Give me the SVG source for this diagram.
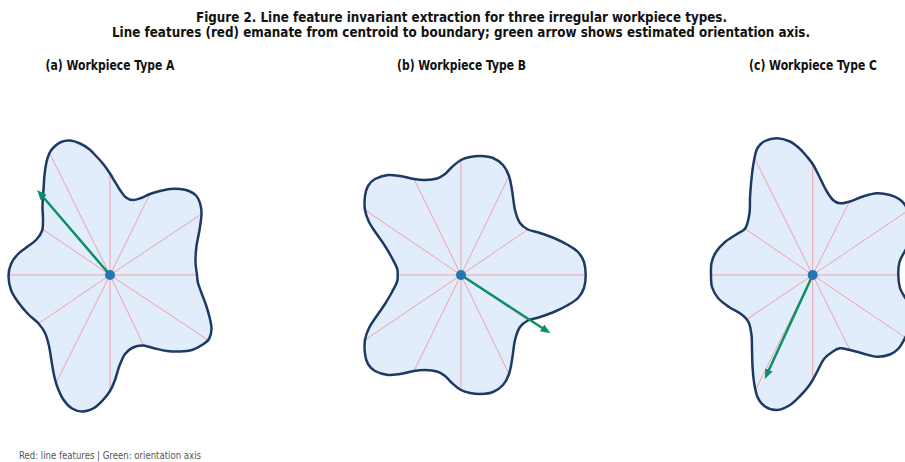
<svg xmlns="http://www.w3.org/2000/svg" xmlns:xlink="http://www.w3.org/1999/xlink" width="905" height="462" viewBox="0 0 905 462">
<style>
.title{font-family:"DejaVu Sans Condensed","DejaVu Sans","Liberation Sans",sans-serif;font-stretch:condensed;font-weight:bold;font-size:14px;fill:#111}
.sub{font-family:"DejaVu Sans Condensed","DejaVu Sans","Liberation Sans",sans-serif;font-stretch:condensed;font-weight:bold;font-size:13.5px;fill:#111}
.foot{font-family:"DejaVu Sans Condensed","DejaVu Sans","Liberation Sans",sans-serif;font-stretch:condensed;font-size:10px;fill:#555}
.fill{fill:#e2edfb;stroke:none}
.outline{fill:none;stroke:#1e3a64;stroke-width:2.5;stroke-linejoin:round}
.rays line{stroke:#f0a0aa;stroke-width:1}
.axis{stroke:#0a9064;stroke-width:2.5;fill:none}
.dot{fill:#1f77b4}
</style>
<defs>
<marker id="ah" markerUnits="userSpaceOnUse" markerWidth="11" markerHeight="9" refX="3.5" refY="4" orient="auto">
<path d="M0,0 L10,4 L0,8 z" fill="#0a9064"/>
</marker>
<path id="shapeA" d="M197,275 C196.58,271.5 195.58,266.83 195.5,262 S195.83,251.33 196.5,246 S198.67,235.33 199.5,230 S201.42,218.5 201.5,214 S200.92,206.08 200,203 S197.83,197.5 196,195.5 S191.67,192.08 189,191 S183.17,189.33 180,189 S173.33,188.67 170,189 S163.33,190.17 160,191 S153.17,192.83 150,194 S143.83,197 141,198 S135.5,200.08 133,200 S128.17,199.17 126,197.5 S121.92,192.75 120,190 S116.17,183.75 114.5,181 S111.75,176.17 110,173.5 S106.17,167.75 104,165 S99.5,159.67 97,157 S91.83,151.25 89,149 S83.17,144.92 80,143.5 S73.17,140.75 70,140.5 S63.67,140.92 61,142 S55.92,145.17 54,147 S50.75,150.5 49.5,153 S47.33,158.33 46.5,162 S45,170.33 44.5,175 S43.83,184.83 43.5,190 S42.58,201 42.5,206 S43.08,215.83 43,220 S43.17,227.67 42,231 S38.5,237.33 36,240 S30,244.67 27,247 S20.67,251.17 18,254 S12.58,260.33 11,264 S8.5,271.67 8.5,276 S9.42,285.67 11,290 S15.17,298 18,302 S24.58,310.42 28,314 S35.67,320.33 38.5,323.5 S43.25,329.25 45,333 S47.920,341.33 49,346 S50.67,356.17 51.5,361 S53.08,370.83 54,375 S55.5,382 57,386 S60.5,395.25 63,399 S68.67,406.42 72,408.5 S79.33,411.58 83,411.5 S90.67,409.92 94,408 S100.33,402.83 103,400 S108,394.33 110,391 S113.5,384 115,380 S117.33,371.33 119,367 S122.67,357.25 125,354 S130,348.92 133,347.5 S139.33,345.33 143,345.5 S151,347.58 155,348.5 S162.83,350.5 167,351 S175.83,351.67 180,351.5 S188.33,351.08 192,350 S199.17,346.83 202,345 S207.42,341.67 209,339 S211.42,332.67 211.5,329 S210.42,321 209.5,317 S207.33,309 206,305 S202.83,296.67 201.5,293 S198.75,286 198,283 S197.42,278.5 197,275 Z"/>
<path id="shapeB" d="M585.7,275 C585.7,270.67 585.28,265.83 584,262 S580.67,254.83 578,252 S571.83,247.25 568,245 S559.67,240.5 555,238.5 S544.5,234.5 540,233 S531.33,231.17 528,229.5 S522.17,226.25 520,223 S516.33,215.5 515,210 S513,195.67 512,190 S510.5,180.17 509,176 S505.67,168 503,165 S496.67,159.5 493,158 S484.83,156.17 481,156 S473.33,156.33 470,157 S464,158.33 461,160 S454.67,164.67 452,167 S447.5,172.08 445,174 S440.33,177.5 437,178.5 S428.83,179.92 425,180 S418.17,179.67 414,179 S404.33,176.67 400,176 S392.17,174.5 388,175 S378.33,177.17 375,179 S369.67,183.17 368,186 S365.5,192 365,196 S364.33,205.67 365,210 S367.17,218.17 369,222 S373.33,229 376,233 S382.33,241.83 385,246 S390,254.33 392,258 S396.05,265.17 397,268 S397.7,272.67 397.7,275 S397.95,279.17 397,282 S394,288.33 392,292 S387.67,299.83 385,304 S378.67,313 376,317 S370.83,324.17 369,328 S365.67,335.67 365,340 S364.5,350 365,354 S366.33,361.17 368,364 S371.67,369.17 375,371 S383.83,374.5 388,375 S395.67,374.67 400,374 S409.83,371.67 414,371 S421.17,369.92 425,370 S433.67,370.5 437,371.5 S442.5,374.08 445,376 S449.33,380.67 452,383 S458,388.33 461,390 S466.67,392.33 470,393 S477.17,394.17 481,394 S489.33,393.5 493,392 S500.33,388 503,385 S507.5,378.17 509,374 S511,365.67 512,360 S513.67,345.5 515,340 S517.83,330.25 520,327 S524.67,322.17 528,320.5 S535.5,318.5 540,317 S550.33,313.5 555,311.5 S564.17,307.25 568,305 S575.33,300.83 578,298 S582.72,291.83 584,288 S585.7,279.33 585.7,275 Z"/>
<path id="shapeC" d="M898.3,275 C898.22,270.67 898.38,266 899.5,262 S903.08,254.67 905,251 S909.83,244.83 911,240 S913,227.83 912,222 S907.17,208.83 905,205 S901.5,200.67 899,199 S893.67,195.95 890,195 S881.5,193.05 877,193.3 S867.5,195.13 863,196.5 S853.83,200.37 850,201.5 S842.83,203.55 840,203.3 S835.33,202.22 833,200 S828.33,194 826,190 S821.22,180.33 819,176 S814.87,167.42 812.7,164 S808.28,158.17 806,155.5 S801.67,150.33 799,148 S793.67,143.12 790,141.5 S781.17,138.38 777,138.3 S768.25,139.38 765,141 S759.25,145.17 757.5,148 S755.33,154.33 754.5,158 S753.08,165.67 752.5,170 S751.42,179.33 751,184 S750.25,193.17 750,198 S750.25,208 749.5,213 S747.58,224.5 745.5,228 S740.42,231.67 737,234 S728.5,239 725,242 S718.25,248.5 716,252 S712.33,259.17 711.5,263 S710.92,271 711,275 S710.83,283.17 712,287 S715.17,294.67 718,298 S725.17,304.33 729,307 S737.75,311.5 741,314 S746.75,318.5 748.5,322 S750.92,330.33 751.5,335 S751.83,344.83 752,350 S752.17,360.67 752.5,366 S753.17,376.83 754,382 S755.67,392.92 757.5,397 S761.75,404.33 765,406.5 S772.83,410.25 777,410 S786,407.5 790,405 S798,398 801,395 S806.05,389.5 808,387 S811.03,382.83 812.7,380 S816.12,373.5 818,370 S821.5,362.08 824,359 S830.33,353.28 833,351.5 S837.17,348.55 840,348.3 S846.17,349.13 850,350 S858.5,352.38 863,353.5 S872.5,356.53 877,356.7 S886.33,355.95 890,354.5 S896.5,350.75 899,348 S903,341.67 905,338 S910,331 911,326 S912,312.75 911,308 S906.83,300.83 905,297.5 S901.12,291.75 900,288 S898.38,279.33 898.3,275 Z"/>
</defs>
<rect width="905" height="462" fill="#ffffff"/>
<g id="title">
<text class="title" x="461.5" y="21.5" text-anchor="middle" textLength="531" lengthAdjust="spacingAndGlyphs">Figure 2. Line feature invariant extraction for three irregular workpiece types.</text>
<text class="title" x="461" y="37" text-anchor="middle" textLength="698" lengthAdjust="spacingAndGlyphs">Line features (red) emanate from centroid to boundary; green arrow shows estimated orientation axis.</text>
</g>
<g id="workpiece-a">
<text class="sub" x="110" y="70" text-anchor="middle" textLength="129" lengthAdjust="spacingAndGlyphs">(a) Workpiece Type A</text>
<use xlink:href="#shapeA" class="fill"/>
<g class="rays">
<line x1="110" y1="275" x2="197" y2="275"/>
<line x1="110" y1="275" x2="201.5" y2="214"/>
<line x1="110" y1="275" x2="150" y2="194"/>
<line x1="110" y1="275" x2="110" y2="173.5"/>
<line x1="110" y1="275" x2="49.5" y2="153"/>
<line x1="110" y1="275" x2="42.2" y2="229"/>
<line x1="110" y1="275" x2="8.5" y2="275"/>
<line x1="110" y1="275" x2="38.5" y2="323.5"/>
<line x1="110" y1="275" x2="56" y2="383"/>
<line x1="110" y1="275" x2="110" y2="391"/>
<line x1="110" y1="275" x2="143.5" y2="345"/>
<line x1="110" y1="275" x2="208" y2="340"/>
</g>
<use xlink:href="#shapeA" class="outline"/>
<line class="axis" x1="110" y1="275" x2="41.4" y2="195.05" marker-end="url(#ah)"/>
<circle class="dot" cx="110" cy="275" r="5"/>
</g>
<g id="workpiece-b">
<text class="sub" x="461.5" y="70" text-anchor="middle" textLength="129" lengthAdjust="spacingAndGlyphs">(b) Workpiece Type B</text>
<use xlink:href="#shapeB" class="fill"/>
<g class="rays">
<line x1="461" y1="275" x2="585.7" y2="275"/>
<line x1="461" y1="275" x2="528" y2="229.5"/>
<line x1="461" y1="275" x2="509" y2="176"/>
<line x1="461" y1="275" x2="461" y2="160"/>
<line x1="461" y1="275" x2="414" y2="179"/>
<line x1="461" y1="275" x2="365" y2="210"/>
<line x1="461" y1="275" x2="397.7" y2="275"/>
<line x1="461" y1="275" x2="365" y2="340"/>
<line x1="461" y1="275" x2="414" y2="371"/>
<line x1="461" y1="275" x2="461" y2="390"/>
<line x1="461" y1="275" x2="509" y2="374"/>
<line x1="461" y1="275" x2="528" y2="320.5"/>
</g>
<use xlink:href="#shapeB" class="outline"/>
<line class="axis" x1="461" y1="275" x2="544.97" y2="329.72" marker-end="url(#ah)"/>
<circle class="dot" cx="461" cy="275" r="5"/>
</g>
<g id="workpiece-c">
<text class="sub" x="813" y="70" text-anchor="middle" textLength="128" lengthAdjust="spacingAndGlyphs">(c) Workpiece Type C</text>
<use xlink:href="#shapeC" class="fill"/>
<g class="rays">
<line x1="812.7" y1="275" x2="898.3" y2="275"/>
<line x1="812.7" y1="275" x2="905" y2="212.7"/>
<line x1="812.7" y1="275" x2="849.5" y2="201.5"/>
<line x1="812.7" y1="275" x2="812.7" y2="164"/>
<line x1="812.7" y1="275" x2="754.5" y2="158"/>
<line x1="812.7" y1="275" x2="745.5" y2="229"/>
<line x1="812.7" y1="275" x2="711" y2="275"/>
<line x1="812.7" y1="275" x2="746.5" y2="319.5"/>
<line x1="812.7" y1="275" x2="755.5" y2="390"/>
<line x1="812.7" y1="275" x2="812.7" y2="380"/>
<line x1="812.7" y1="275" x2="850" y2="350"/>
<line x1="812.7" y1="275" x2="905" y2="337.3"/>
</g>
<use xlink:href="#shapeC" class="outline"/>
<line class="axis" x1="812.7" y1="275" x2="767.51" y2="373.05" marker-end="url(#ah)"/>
<circle class="dot" cx="812.7" cy="275" r="5"/>
</g>
<text class="foot" x="19" y="459" textLength="182" lengthAdjust="spacingAndGlyphs">Red: line features | Green: orientation axis</text>
</svg>
